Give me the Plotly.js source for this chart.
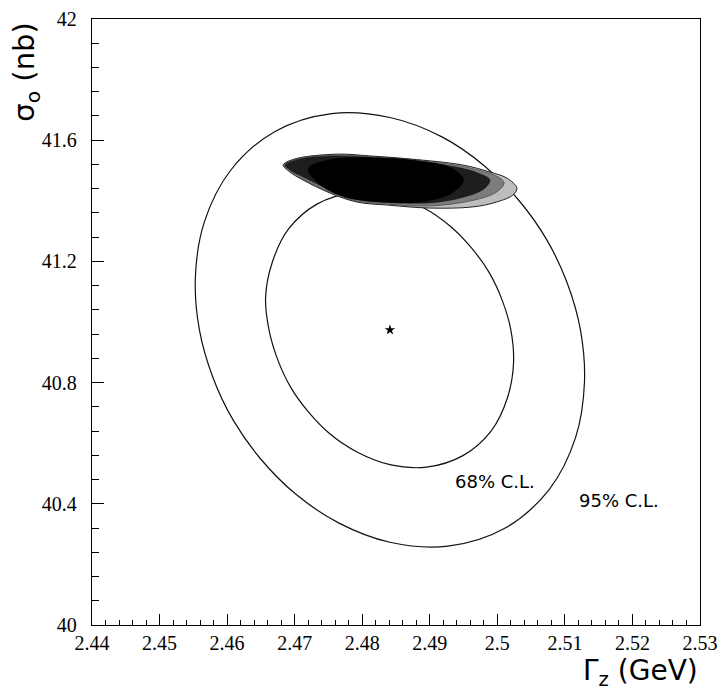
<!DOCTYPE html>
<html>
<head>
<meta charset="utf-8">
<script src="https://cdn.plot.ly/plotly-3.0.1.min.js"></script>
<style>html,body{margin:0;padding:0;background:#fff;}#chart{width:721px;height:694px;}</style>
</head>
<body>
<div id="chart"></div>
<script>
// Best-fit point
const bestGamma = [2.4841];
const bestSigma = [40.974];

// 95% C.L. contour
const cl95Gamma = [2.5123,2.5129,2.5116,2.5077,2.5011,2.4927,2.4841,2.4765,2.4701,2.4650,2.4609,2.4579,2.4559,2.4553,2.4566,2.4605,2.4671,2.4755,2.4841,2.4918,2.4981,2.5032,2.5073,2.5103,2.5123];
const cl95Sigma = [40.974,40.802,40.620,40.448,40.319,40.260,40.273,40.337,40.433,40.547,40.676,40.817,40.974,41.146,41.328,41.500,41.629,41.688,41.675,41.611,41.515,41.401,41.272,41.131,40.974];

// 68% C.L. contour
const cl68Gamma = [2.5020,2.5024,2.5015,2.4991,2.4949,2.4895,2.4841,2.4793,2.4752,2.4720,2.4694,2.4675,2.4662,2.4657,2.4667,2.4691,2.4733,2.4787,2.4841,2.4890,2.4930,2.4962,2.4988,2.5007,2.5020];
const cl68Sigma = [40.974,40.865,40.750,40.641,40.559,40.521,40.529,40.570,40.631,40.704,40.785,40.875,40.974,41.083,41.198,41.307,41.389,41.427,41.419,41.378,41.317,41.244,41.163,41.073,40.974];

// Shaded allowed regions (outer to inner)
const regA_Gamma = [2.4683,2.4700,2.4763,2.4812,2.4871,2.4949,2.4989,2.5014,2.5029,2.5023,2.4999,2.4964,2.4900,2.4837,2.4792,2.4752,2.4712,2.4693,2.4683];
const regA_Sigma = [41.518,41.538,41.554,41.548,41.538,41.518,41.495,41.475,41.442,41.419,41.396,41.380,41.376,41.386,41.396,41.426,41.469,41.495,41.518];

const regB_Gamma = [2.4684,2.4708,2.4763,2.4871,2.4945,2.4982,2.5001,2.5010,2.4999,2.4967,2.4900,2.4837,2.4792,2.4752,2.4712,2.4693,2.4684];
const regB_Sigma = [41.518,41.541,41.551,41.535,41.515,41.495,41.479,41.459,41.429,41.403,41.383,41.389,41.399,41.429,41.472,41.498,41.518];

const regC_Gamma = [2.4686,2.4708,2.4763,2.4871,2.4937,2.4971,2.4989,2.4980,2.4945,2.4900,2.4837,2.4792,2.4752,2.4712,2.4693,2.4686];
const regC_Sigma = [41.518,41.538,41.548,41.531,41.512,41.492,41.469,41.439,41.409,41.393,41.396,41.406,41.436,41.479,41.502,41.518];

const regD_Gamma = [2.4720,2.4750,2.4826,2.4890,2.4930,2.4950,2.4932,2.4886,2.4830,2.4775,2.4740,2.4720];
const regD_Sigma = [41.505,41.535,41.542,41.530,41.510,41.469,41.425,41.396,41.395,41.412,41.450,41.505];

const xTickVals = [2.44,2.45,2.46,2.47,2.48,2.49,2.5,2.51,2.52,2.53];
const xTickText = ['2.44','2.45','2.46','2.47','2.48','2.49','2.5','2.51','2.52','2.53'];
const yTickVals = [40,40.4,40.8,41.2,41.6,42];
const yTickText = ['40','40.4','40.8','41.2','41.6','42'];

const labels = {cl68: '68% C.L.', cl95: '95% C.L.', xTitle: 'Γ<sub>z</sub> (GeV)', yTitle: 'σ<sub>o</sub> (nb)'};

const lineStyle = {color:'#111', width:1.2, shape:'spline', smoothing:1};

const traces = [
  {x: cl95Gamma, y: cl95Sigma, mode:'lines', line: lineStyle, hoverinfo:'skip'},
  {x: cl68Gamma, y: cl68Sigma, mode:'lines', line: lineStyle, hoverinfo:'skip'},
  {x: regA_Gamma, y: regA_Sigma, mode:'lines', fill:'toself', fillcolor:'#bdbdbd', line:{color:'#222', width:1, shape:'spline', smoothing:1}, hoverinfo:'skip'},
  {x: regB_Gamma, y: regB_Sigma, mode:'lines', fill:'toself', fillcolor:'#7d7d7d', line:{color:'#333', width:0.6, shape:'spline', smoothing:1}, hoverinfo:'skip'},
  {x: regC_Gamma, y: regC_Sigma, mode:'lines', fill:'toself', fillcolor:'#1e1e1e', line:{color:'#111', width:0.5, shape:'spline', smoothing:1}, hoverinfo:'skip'},
  {x: regD_Gamma, y: regD_Sigma, mode:'lines', fill:'toself', fillcolor:'#000000', line:{color:'#000', width:0.5, shape:'spline', smoothing:1}, hoverinfo:'skip'},
  {x: bestGamma, y: bestSigma, mode:'markers', marker:{symbol:'star', size:8, color:'#000'}, hoverinfo:'skip'}
];

const serif = 'Times New Roman, Liberation Serif, serif';
const tickFont = {family: serif, size:20, color:'#000'};

const layout = {
  width:721, height:694,
  margin:{l:92, r:21, t:19, b:69},
  paper_bgcolor:'#fff', plot_bgcolor:'#fff',
  font:{family: serif, size:20, color:'#000'},
  showlegend:false,
  xaxis:{
    range:[2.44,2.53], tickmode:'array', tickvals:xTickVals, ticktext:xTickText,
    ticks:'inside', ticklen:11, tickwidth:1, tickcolor:'#000',
    minor:{dtick:0.002, ticks:'inside', ticklen:5, tickwidth:1, tickcolor:'#000', showgrid:false},
    showline:true, linecolor:'#000', linewidth:1.2, mirror:true,
    showgrid:false, zeroline:false, tickfont:tickFont, ticklabelstandoff:0
  },
  yaxis:{
    range:[40,42], tickmode:'array', tickvals:yTickVals, ticktext:yTickText,
    ticks:'inside', ticklen:12, tickwidth:1, tickcolor:'#000',
    minor:{dtick:0.08, ticks:'inside', ticklen:7, tickwidth:1, tickcolor:'#000', showgrid:false},
    showline:true, linecolor:'#000', linewidth:1.2, mirror:true,
    showgrid:false, zeroline:false, tickfont:tickFont, ticklabelstandoff:10
  },
  annotations:[
    {text: labels.cl68, x:2.4996, y:40.475, xref:'x', yref:'y', showarrow:false, xanchor:'center', yanchor:'middle',
     font:{family:'DejaVu Sans, sans-serif', size:18, color:'#000'}},
    {text: labels.cl95, x:2.5180, y:40.412, xref:'x', yref:'y', showarrow:false, xanchor:'center', yanchor:'middle',
     font:{family:'DejaVu Sans, sans-serif', size:18, color:'#000'}},
    {text: labels.xTitle, x:1.0, y:-0.079, xref:'paper', yref:'paper', showarrow:false, xanchor:'right', yanchor:'middle',
     font:{family:'DejaVu Sans, sans-serif', size:28, color:'#000'}},
    {text: labels.yTitle, x:-0.108, y:0.912, xref:'paper', yref:'paper', showarrow:false, xanchor:'center', yanchor:'middle', textangle:-90,
     font:{family:'DejaVu Sans, sans-serif', size:29, color:'#000'}}
  ]
};

Plotly.newPlot('chart', traces, layout, {staticPlot:true, displayModeBar:false});
</script>
</body>
</html>
